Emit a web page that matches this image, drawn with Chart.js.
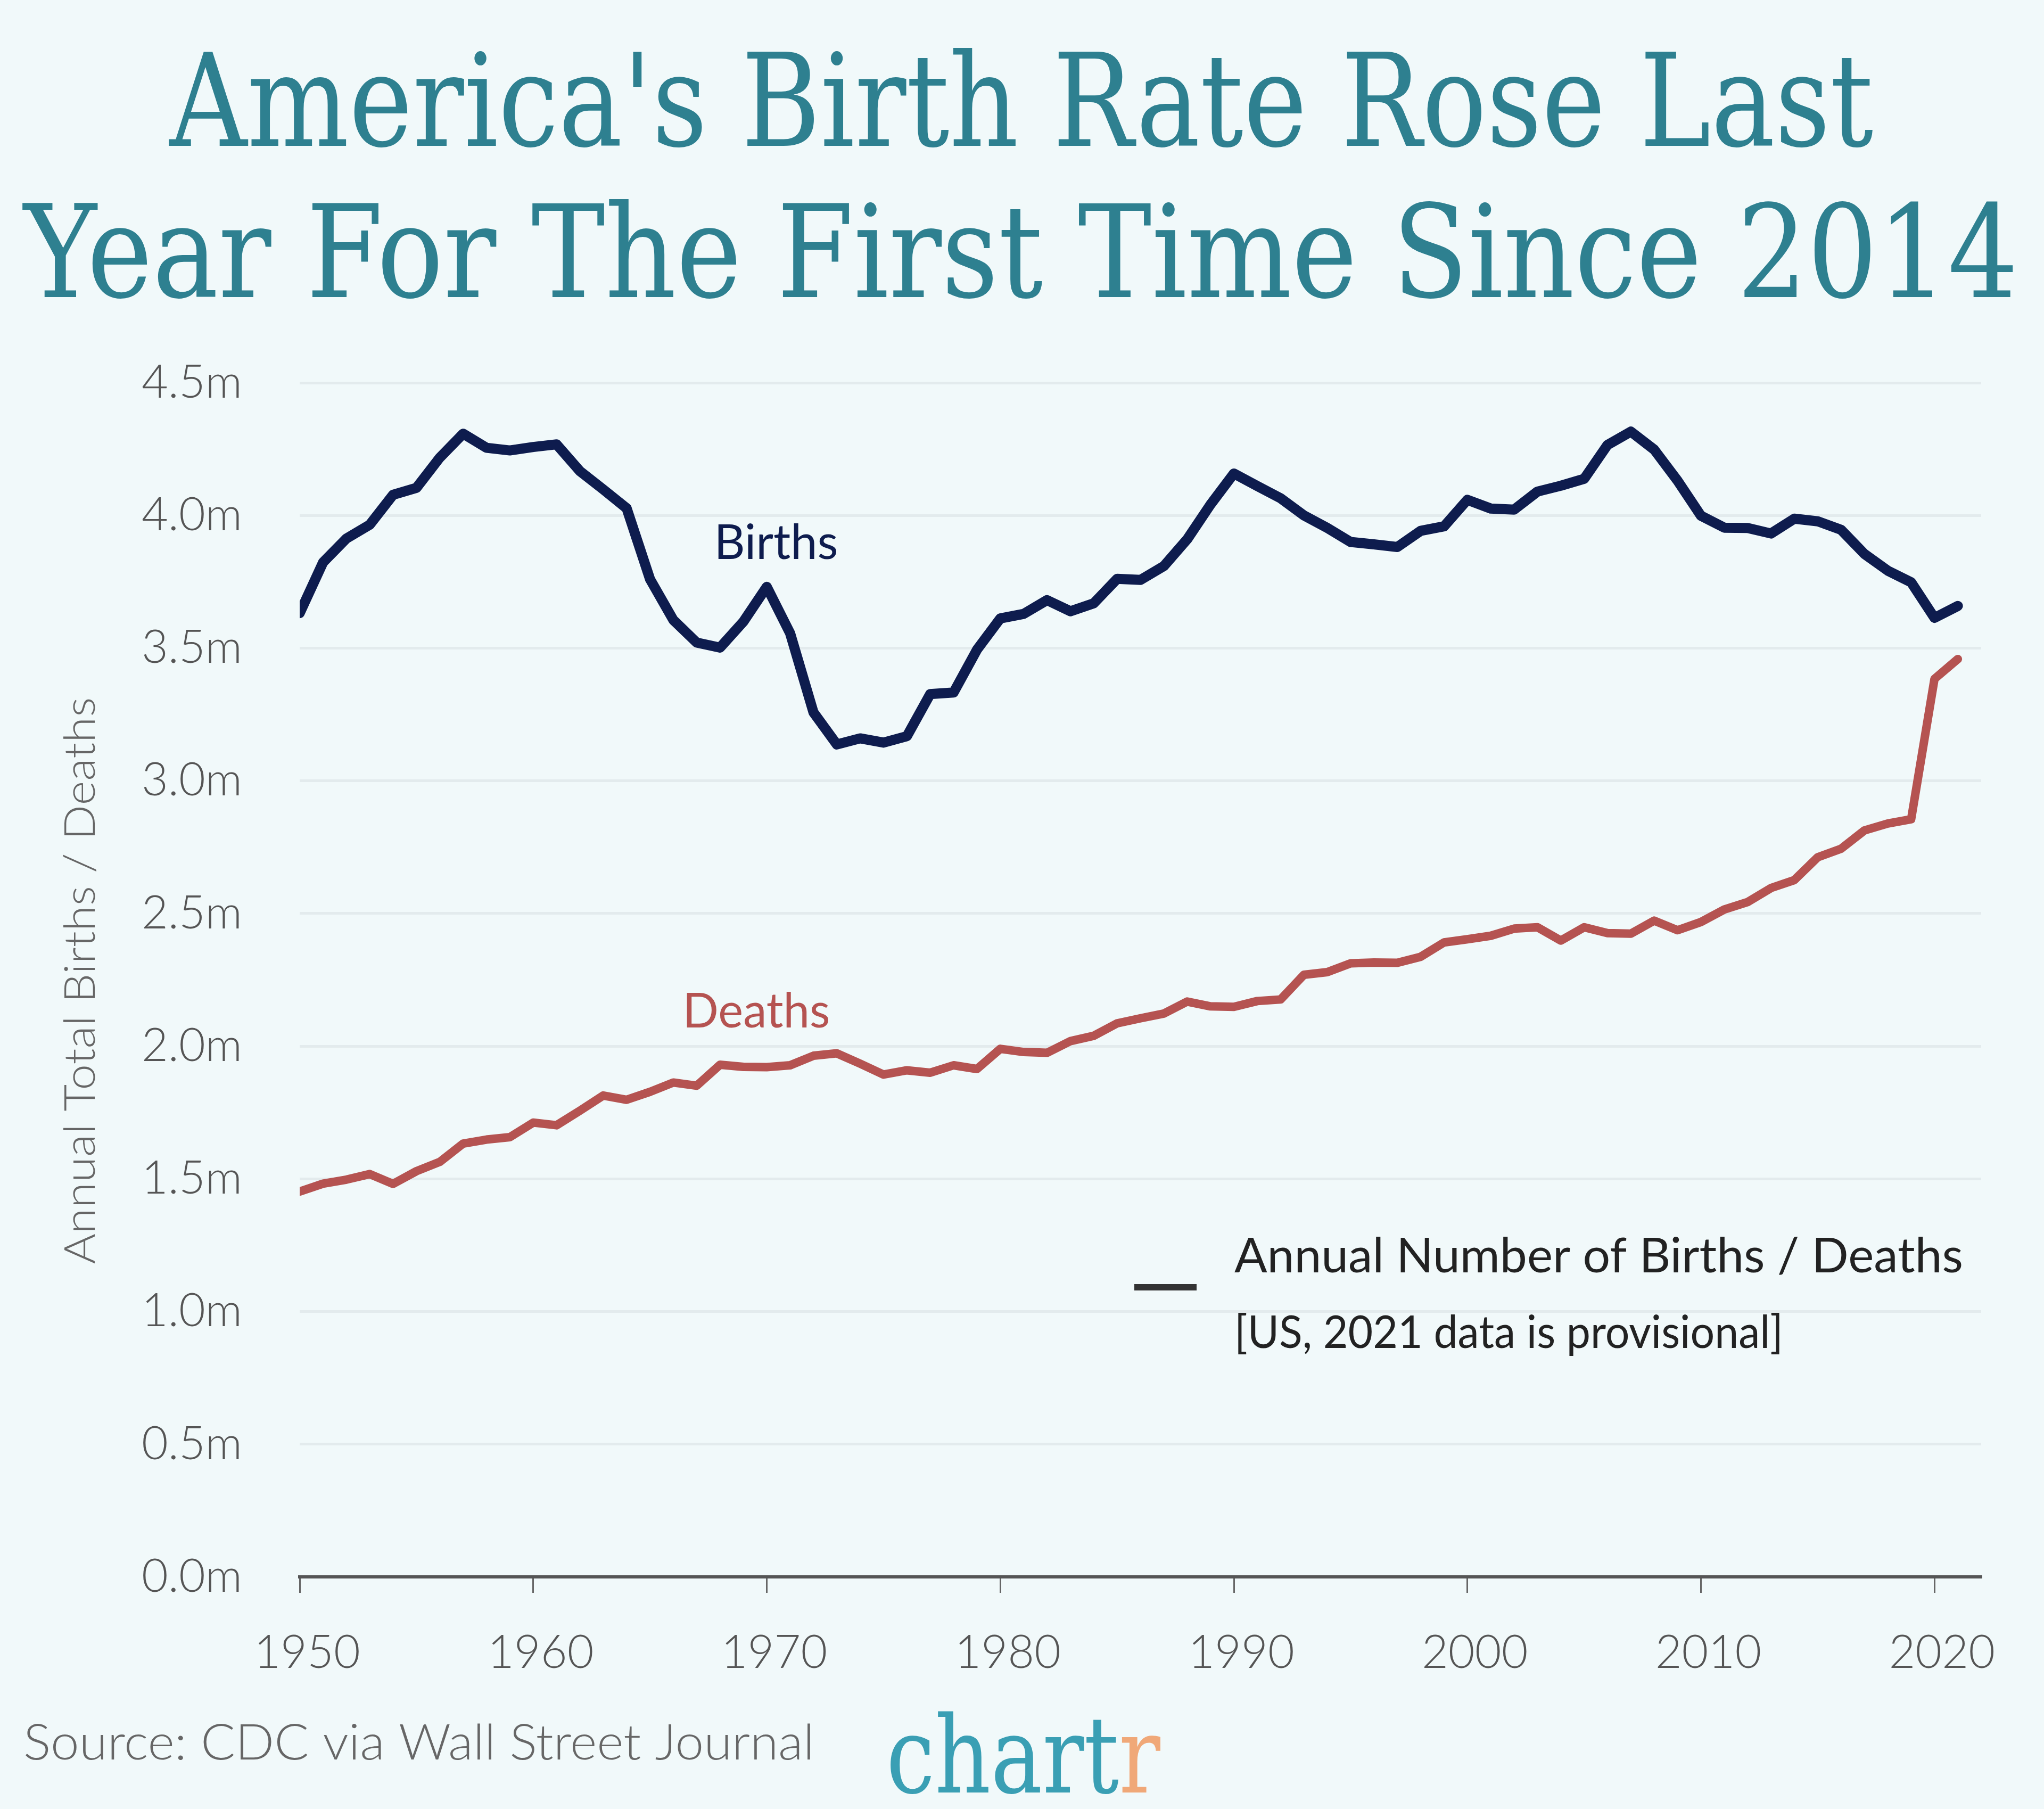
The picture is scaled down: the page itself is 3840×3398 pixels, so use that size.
<!DOCTYPE html>
<html>
<head>
<meta charset="utf-8">
<script src="https://cdn.jsdelivr.net/npm/chart.js@4"></script>
<style>
  html, body { margin: 0; padding: 0; background: #f1f9fa; }
  canvas { display: block; }
</style>
</head>
<body>
<canvas id="birthChart" width="3840" height="3398"></canvas>
<script>
// annual totals, millions
const years = [];
for (let y = 1950; y <= 2021; y++) years.push(y);

const births = [
    3.632, 3.823, 3.913, 3.965, 4.078, 4.104, 4.218, 4.308, 4.255, 4.245,
    4.258, 4.268, 4.167, 4.098, 4.027, 3.760, 3.606, 3.521, 3.502, 3.600,
    3.731, 3.556, 3.258, 3.137, 3.160, 3.144, 3.168, 3.327, 3.333, 3.494,
    3.612, 3.629, 3.681, 3.639, 3.669, 3.761, 3.757, 3.809, 3.910, 4.041,
    4.158, 4.111, 4.065, 4.000, 3.953, 3.900, 3.891, 3.881, 3.942, 3.959,
    4.059, 4.026, 4.022, 4.090, 4.112, 4.138, 4.266, 4.316, 4.248, 4.131,
    3.999, 3.954, 3.953, 3.932, 3.988, 3.978, 3.946, 3.855, 3.792, 3.748,
    3.614, 3.659
];

const deaths = [
    1.452, 1.482, 1.497, 1.518, 1.481, 1.529, 1.564, 1.633, 1.648, 1.657,
    1.712, 1.702, 1.757, 1.814, 1.798, 1.828, 1.863, 1.851, 1.930, 1.922,
    1.921, 1.928, 1.964, 1.973, 1.934, 1.893, 1.909, 1.900, 1.928, 1.914,
    1.990, 1.978, 1.975, 2.019, 2.039, 2.086, 2.105, 2.123, 2.168, 2.150,
    2.148, 2.170, 2.176, 2.269, 2.279, 2.312, 2.315, 2.314, 2.337, 2.391,
    2.403, 2.416, 2.443, 2.448, 2.398, 2.448, 2.426, 2.424, 2.473, 2.437,
    2.468, 2.515, 2.543, 2.596, 2.626, 2.712, 2.744, 2.813, 2.839, 2.855,
    3.384, 3.459
];

const xTicks = [1950, 1960, 1970, 1980, 1990, 2000, 2010, 2020];
const yTicks = [0, 0.5, 1, 1.5, 2, 2.5, 3, 3.5, 4, 4.5];

const BG = '#f1f9fa';
const NAVY = '#0e1c4e';
const RED = '#b55351';
const TEAL = '#2e8090';
const SANS = 'Lato, "Open Sans", sans-serif';
const SLAB = '"DejaVu Serif", serif';

// draws text squeezed/stretched horizontally to a target width
function fitText(ctx, text, x, y, width, font, color, align) {
    ctx.save();
    ctx.font = font;
    ctx.fillStyle = color;
    ctx.textBaseline = 'alphabetic';
    const w = ctx.measureText(text).width;
    const sx = width / w;
    ctx.translate(x, y);
    ctx.scale(sx, 1);
    ctx.textAlign = align || 'left';
    ctx.fillText(text, 0, 0);
    ctx.restore();
}

const decorations = {
    id: 'decorations',
    beforeDraw(chart) {
        const ctx = chart.ctx;
        ctx.save();
        ctx.fillStyle = BG;
        ctx.fillRect(0, 0, chart.width, chart.height);
        ctx.restore();
    },
    afterDraw(chart) {
        const ctx = chart.ctx;

        // title
        fitText(ctx, "America's Birth Rate Rose Last", 1919, 274, 3201, '242px ' + SLAB, TEAL, 'center');
        fitText(ctx, 'Year For The First Time Since 2014', 1918, 558, 3747, '242px ' + SLAB, TEAL, 'center');

        // y axis title
        ctx.save();
        ctx.translate(152, 1842);
        ctx.rotate(-Math.PI / 2);
        ctx.font = '300 80px ' + SANS;
        ctx.fillStyle = '#666';
        ctx.textAlign = 'center';
        ctx.textBaseline = 'middle';
        const t = 'Annual Total Births / Deaths';
        const sx = 1065 / ctx.measureText(t).width;
        ctx.scale(sx, 1);
        ctx.fillText(t, 0, 0);
        ctx.restore();

        // series labels
        fitText(ctx, 'Births', 1458, 1050, 233, '92px ' + SANS, NAVY, 'center');
        fitText(ctx, 'Deaths', 1421, 1930, 277, '92px ' + SANS, RED, 'center');

        // legend
        ctx.save();
        ctx.strokeStyle = '#333';
        ctx.lineWidth = 12;
        ctx.beginPath();
        ctx.moveTo(2131, 2418);
        ctx.lineTo(2248, 2418);
        ctx.stroke();
        ctx.restore();
        fitText(ctx, 'Annual Number of Births / Deaths', 2319, 2390, 1369, '92px ' + SANS, '#222');
        fitText(ctx, '[US, 2021 data is provisional]', 2319, 2532, 1031, '86px ' + SANS, '#222');

        // footer
        fitText(ctx, 'Source: CDC via Wall Street Journal', 44, 3305, 1486, '300 92px ' + SANS, '#666');
        ctx.save();
        ctx.font = '200px ' + SLAB;
        const wChart = ctx.measureText('chart').width;
        const wR = ctx.measureText('r').width;
        const s = 515 / (wChart + wR);
        ctx.translate(1665, 3367);
        ctx.scale(s, 1);
        ctx.textBaseline = 'alphabetic';
        ctx.fillStyle = '#3a9fb4';
        ctx.fillText('chart', 0, 0);
        ctx.fillStyle = '#f0a878';
        ctx.fillText('r', wChart, 0);
        ctx.restore();
    }
};

const ctx = document.getElementById('birthChart').getContext('2d');
const birthChart = new Chart(ctx, {
    type: 'line',
    data: {
        datasets: [{
            label: 'Births',
            data: years.map((y, i) => ({ x: y, y: births[i] })),
            borderColor: NAVY,
            borderWidth: 19,
            pointRadius: 0,
            tension: 0,
            borderJoinStyle: 'round',
            borderCapStyle: 'round',
        }, {
            label: 'Deaths',
            data: years.map((y, i) => ({ x: y, y: deaths[i] })),
            borderColor: RED,
            borderWidth: 16,
            pointRadius: 0,
            tension: 0,
            borderJoinStyle: 'round',
            borderCapStyle: 'round',
        }],
    },
    options: {
        responsive: false,
        animation: false,
        devicePixelRatio: 1,
        layout: {
            padding: { top: 719, right: 118, left: 0, bottom: 0 },
        },
        plugins: {
            legend: { display: false },
            tooltip: { enabled: false },
        },
        scales: {
            x: {
                type: 'linear',
                min: 1950,
                max: 2022,
                afterBuildTicks: (scale) => {
                    scale.ticks = xTicks.map(v => ({ value: v }));
                },
                afterFit: (scale) => { scale.height = 436; },
                ticks: {
                    callback: (v) => String(v),
                    font: { family: SANS, size: 86, weight: 300 },
                    color: '#555',
                    padding: 62,
                    labelOffset: 14,
                    maxRotation: 0,
                    autoSkip: false,
                },
                grid: {
                    drawOnChartArea: false,
                    drawTicks: true,
                    tickLength: 30,
                    color: '#666',
                    lineWidth: 3,
                },
                border: { display: true, color: '#555', width: 6 },
            },
            y: {
                min: 0,
                max: 4.5,
                afterBuildTicks: (scale) => {
                    scale.ticks = yTicks.map(v => ({ value: v }));
                },
                afterFit: (scale) => { scale.width = 563; },
                ticks: {
                    callback: (v) => v.toFixed(1) + 'm',
                    font: { family: SANS, size: 86, weight: 300 },
                    color: '#555',
                    padding: 108,
                },
                grid: {
                    color: '#e3ebed',
                    lineWidth: 5,
                    drawTicks: false,
                },
                border: { display: false },
            },
        },
    },
    plugins: [decorations],
});
</script>
</body>
</html>
